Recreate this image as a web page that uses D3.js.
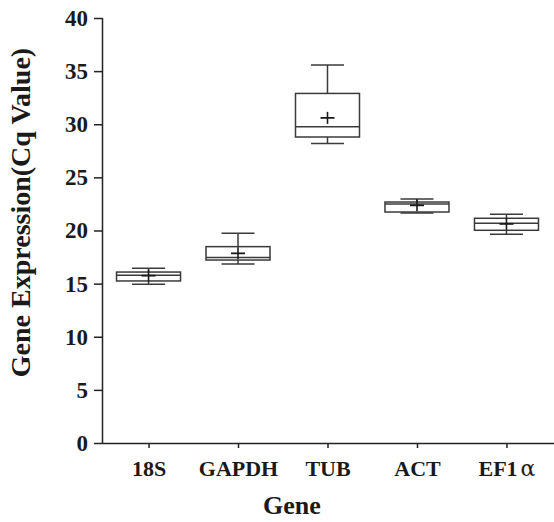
<!DOCTYPE html>
<html><head><meta charset="utf-8">
<script src="https://cdn.jsdelivr.net/npm/d3@7"></script>
<style>body{margin:0;background:#fff}svg{display:block}text{font-family:"Liberation Serif","Times New Roman",serif;font-weight:bold;fill:#1a1a1a}</style>
</head><body><svg id="c" width="554" height="522"></svg>
<script>
const genes = ["18S","GAPDH","TUB","ACT","EF1α"];
const whiskerLow  = [14.94, 16.85, 28.2, 21.65, 19.64];
const q1          = [15.25, 17.22, 28.8, 21.74, 20.02];
const median      = [15.8, 17.47, 29.77, 22.5, 20.68];
const q3          = [16.09, 18.48, 32.9, 22.68, 21.15];
const whiskerHigh = [16.44, 19.73, 35.58, 22.96, 21.52];
const meanVal     = [15.75, 17.85, 30.6, 22.37, 20.62];
const yTicks = [0,5,10,15,20,25,30,35,40];

const svg = d3.select("#c");
const m = {left:102, right:553, top:18, bottom:443};
const x = d3.scalePoint().domain(genes).range([m.left, m.right]).padding(0.52);
const y = d3.scaleLinear().domain([0,40]).range([m.bottom, m.top]);
const col = "#3a3a3a";
const bw = 64, cw = 33, pw = 14, ph = 12;

const data = genes.map((g,i)=>({g, lo:whiskerLow[i], q1:q1[i], med:median[i], q3:q3[i], hi:whiskerHigh[i], mean:meanVal[i]}));
const gb = svg.append("g").attr("stroke", col).attr("stroke-width", 1.5).attr("fill","none");
data.forEach(d=>{
  const cx = x(d.g);
  gb.append("line").attr("x1",cx).attr("x2",cx).attr("y1",y(d.hi)).attr("y2",y(d.q3));
  gb.append("line").attr("x1",cx).attr("x2",cx).attr("y1",y(d.q1)).attr("y2",y(d.lo));
  gb.append("line").attr("x1",cx-cw/2).attr("x2",cx+cw/2).attr("y1",y(d.hi)).attr("y2",y(d.hi));
  gb.append("line").attr("x1",cx-cw/2).attr("x2",cx+cw/2).attr("y1",y(d.lo)).attr("y2",y(d.lo));
  gb.append("rect").attr("x",cx-bw/2).attr("y",y(d.q3)).attr("width",bw).attr("height",y(d.q1)-y(d.q3)).attr("fill","#fff");
  gb.append("line").attr("x1",cx-bw/2).attr("x2",cx+bw/2).attr("y1",y(d.med)).attr("y2",y(d.med));
  gb.append("line").attr("x1",cx-pw/2).attr("x2",cx+pw/2).attr("y1",y(d.mean)).attr("y2",y(d.mean)).attr("stroke","#1a1a1a").attr("stroke-width",1.8);
  gb.append("line").attr("x1",cx).attr("x2",cx).attr("y1",y(d.mean)-ph/2).attr("y2",y(d.mean)+ph/2).attr("stroke","#1a1a1a").attr("stroke-width",1.6);
});

// axes
const ya = svg.append("g").attr("transform",`translate(${m.left},0)`)
  .call(d3.axisLeft(y).tickValues(yTicks).tickSize(8).tickPadding(6).tickSizeOuter(0));
const xa = svg.append("g").attr("transform",`translate(0,${m.bottom})`)
  .call(d3.axisBottom(x).tickSize(5).tickPadding(12).tickSizeOuter(0));
[ya,xa].forEach(a=>{
  a.selectAll("path,line").attr("stroke","#222").attr("stroke-width",1.5);
  a.selectAll("text").attr("font-family",'"Liberation Serif",serif').attr("font-weight","bold").attr("font-size",23).attr("fill","#1a1a1a");
});
xa.selectAll("text").attr("font-size",22);
xa.select(".domain").attr("d",`M${m.left},0.5H${m.right+1}`);
ya.select(".domain").attr("d",`M0.5,${m.top}V${m.bottom}`);
xa.selectAll(".tick text").each(function(d){
  if(d.endsWith("α")){
    const t=d3.select(this); t.text(null);
    t.append("tspan").text(d.slice(0,-1));
    t.append("tspan").text("α").attr("font-weight","normal").attr("font-family",'"DejaVu Serif",serif').attr("font-size",22).attr("dx",3);
  }
});

svg.append("text").attr("x",292).attr("y",514).attr("text-anchor","middle").attr("font-size",26).text("Gene");
svg.append("text").attr("transform",`translate(30,${(m.top+m.bottom)/2-18}) rotate(-90)`).attr("text-anchor","middle").attr("font-size",28).text("Gene Expression(Cq Value)");
</script></body></html>
